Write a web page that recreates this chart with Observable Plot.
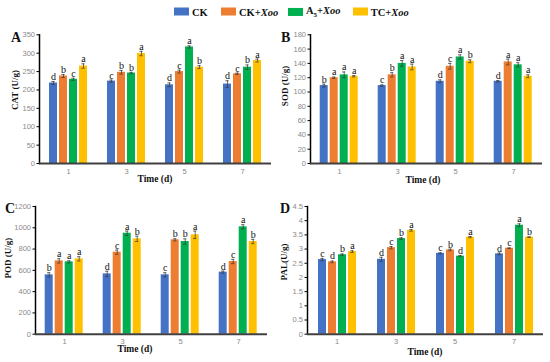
<!DOCTYPE html>
<html><head><meta charset="utf-8">
<script src="https://cdn.jsdelivr.net/npm/d3@7"></script>
<script src="https://cdn.jsdelivr.net/npm/@observablehq/plot@0.6"></script>
<style>
body{margin:0;background:#fff}
#fig{position:relative;width:550px;height:362px;overflow:hidden;background:#fff;font-family:"Liberation Serif","Times New Roman",serif;color:#111}
.panel{position:absolute}
.abs{position:absolute;white-space:nowrap}
.plet{font-weight:bold;font-size:14px;line-height:1}
.ytitle{font-weight:bold;font-size:9px;transform:translate(-50%,-50%) rotate(-90deg)}
.xtitle{font-weight:bold;font-size:9.5px;line-height:1;transform:translate(-50%,-50%)}
.leg{display:flex;align-items:center;font-weight:bold;font-size:10.5px;transform:translateY(-50%)}
.sw{display:inline-block;width:15px;height:8px;margin-right:3px}
g[aria-label^="y-axis"] text, g[aria-label^="fx-axis"] text{fill:#8a8a8a}
g[aria-label^="y-axis"] path.domain, g[aria-label="y-axis line"] line, g[aria-label="frame"] line{stroke-width:1.5}
</style></head>
<body><div id="fig"></div>
<script>
const times = ["1", "3", "5", "7"];
const treatments = ["CK", "CK+Xoo", "A5+Xoo", "TC+Xoo"];
const legendLabels = ["CK", "CK+<i>Xoo</i>", "A<sub style='font-size:7px'>5</sub>+<i>Xoo</i>", "TC+<i>Xoo</i>"];
const colors = ["#4472C4", "#ED7D31", "#00B050", "#FFC000"];

// CAT (U/g): rows = time, columns = treatment
const catMean = [[219, 238, 229, 265], [224, 248, 246, 299], [214, 250, 317, 262], [216, 244, 262, 280]];
const catErr = [[4, 4, 3, 6], [3, 5, 2, 6], [5, 4, 3, 4], [9, 2, 6, 4]];
const catLetters = [["d", "b", "c", "a"], ["c", "b", "b", "a"], ["d", "c", "a", "b"], ["d", "c", "b", "a"]];
const catTicks = [0, 50, 100, 150, 200, 250, 300, 350];
const catTickLabels = ["0", "50", "100", "150", "200", "250", "300", "350"];

// SOD (U/g)
const sodMean = [[109, 120, 124, 122], [109, 124, 140, 135], [115, 136, 149, 143], [115, 142, 138, 122]];
const sodErr = [[2, 1, 4, 1], [1, 3, 4, 4], [2, 4, 3, 2], [1, 4, 3, 2]];
const sodLetters = [["b", "a", "a", "a"], ["c", "b", "a", "a"], ["d", "c", "a", "b"], ["d", "a", "a", "a"]];
const sodTicks = [0, 20, 40, 60, 80, 100, 120, 140, 160, 180];
const sodTickLabels = ["0", "20", "40", "60", "80", "100", "120", "140", "160", "180"];

// POD (U/g)
const podMean = [[558, 689, 680, 708], [567, 771, 949, 896], [558, 887, 871, 934], [583, 683, 1009, 871]];
const podErr = [[20, 20, 10, 20], [25, 20, 20, 25], [20, 10, 25, 35], [10, 20, 20, 20]];
const podLetters = [["b", "a", "a", "a"], ["d", "c", "a", "b"], ["c", "b", "b", "a"], ["d", "c", "a", "b"]];
const podTicks = [0, 200, 400, 600, 800, 1000, 1200];
const podTickLabels = ["0", "200", "400", "600", "800", "1000", "1200"];

// PAL (U/g)
const palMean = [[2.63, 2.55, 2.80, 2.91], [2.64, 3.05, 3.37, 3.66], [2.85, 2.97, 2.75, 3.42], [2.83, 3.03, 3.84, 3.42]];
const palErr = [[0.04, 0.03, 0.03, 0.03], [0.07, 0.04, 0.03, 0.03], [0.02, 0.03, 0.02, 0.02], [0.03, 0.01, 0.05, 0.01]];
const palLetters = [["c", "d", "b", "a"], ["d", "c", "b", "a"], ["c", "b", "d", "a"], ["d", "c", "a", "b"]];
const palTicks = [0, 0.5, 1, 1.5, 2, 2.5, 3, 3.5, 4, 4.5];
const palTickLabels = ["0", "0.5", "1", "1.5", "2", "2.5", "3", "3.5", "4", "4.5"];

const fig = document.getElementById("fig");

function addDiv(cls, html, left, top) {
  const d = document.createElement("div");
  d.className = "abs " + cls;
  d.innerHTML = html;
  d.style.left = left + "px";
  d.style.top = top + "px";
  fig.appendChild(d);
  return d;
}

function panel(p) {
  const rows = [];
  times.forEach((t, i) => treatments.forEach((s, j) =>
    rows.push({time: t, trt: s, v: p.mean[i][j], e: p.err[i][j], L: p.letters[i][j]})));
  const chart = Plot.plot({
    width: p.w, height: p.h,
    marginLeft: p.ml, marginRight: p.mr, marginTop: p.mt, marginBottom: p.mb,
    style: {fontFamily: "'Liberation Sans', Arial, sans-serif", fontSize: "7.5px", color: "#000", background: "transparent", overflow: "visible"},
    fx: {domain: times, padding: 0, tickSize: 0, tickPadding: p.tp, label: null},
    x: {domain: treatments, paddingInner: 0.2, paddingOuter: 0.9, axis: null},
    y: {domain: [0, p.ymax], ticks: p.ticks, tickFormat: d => p.tickLabels[p.ticks.indexOf(d)], tickSize: 2.5, tickPadding: 2, label: null, line: true},
    color: {domain: treatments, range: colors},
    marks: [
      Plot.barY(rows, {fx: "time", x: "trt", y: "v", fill: "trt"}),
      Plot.ruleX(rows, {fx: "time", x: "trt", y1: d => d.v - d.e, y2: d => d.v + d.e, stroke: "#333", strokeWidth: 0.7}),
      Plot.tickY(rows, {fx: "time", x: "trt", y: d => d.v + d.e, stroke: "#333", strokeWidth: 0.7, insetLeft: 2.3, insetRight: 2.3}),
      Plot.tickY(rows, {fx: "time", x: "trt", y: d => d.v - d.e, stroke: "#333", strokeWidth: 0.7, insetLeft: 2.3, insetRight: 2.3}),
      Plot.text(rows, {fx: "time", x: "trt", y: d => d.v + d.e, text: "L", dy: -1.5, lineAnchor: "bottom", fontFamily: "'Liberation Serif', serif", fontSize: 10, fill: "#111"}),
      Plot.ruleY([0], {stroke: "#404040", strokeWidth: 2})
    ]
  });
  chart.style.position = "absolute";
  chart.style.left = p.left + "px";
  chart.style.top = p.top + "px";
  fig.appendChild(chart);
}

panel({mean: catMean, err: catErr, letters: catLetters, ticks: catTicks, tickLabels: catTickLabels, ymax: 350,
  left: 0, top: 20, w: 275, h: 162, ml: 38, mr: 3, mt: 14.3, mb: 19, tp: 5});
panel({mean: sodMean, err: sodErr, letters: sodLetters, ticks: sodTicks, tickLabels: sodTickLabels, ymax: 180,
  left: 275, top: 20, w: 275, h: 162, ml: 33.3, mr: 7, mt: 14.3, mb: 19, tp: 5});
panel({mean: podMean, err: podErr, letters: podLetters, ticks: podTicks, tickLabels: podTickLabels, ymax: 1200,
  left: 0, top: 195, w: 275, h: 155, ml: 34.3, mr: 7, mt: 11, mb: 16.3, tp: 4});
panel({mean: palMean, err: palErr, letters: palLetters, ticks: palTicks, tickLabels: palTickLabels, ymax: 4.5,
  left: 275, top: 195, w: 275, h: 155, ml: 31, mr: 7, mt: 11, mb: 16.3, tp: 4});

// panel letters
addDiv("plet", "A", 11, 31);
addDiv("plet", "B", 281, 31);
addDiv("plet", "C", 5, 202);
addDiv("plet", "D", 280, 202);
// y titles
addDiv("ytitle", "CAT (U/g)", 15, 90);
addDiv("ytitle", "SOD (U/g)", 285, 86);
addDiv("ytitle", "POD (U/g)", 8, 258);
addDiv("ytitle", "PAL(U/g)", 284, 262);
// x titles
addDiv("xtitle", "Time (d)", 155, 180);
addDiv("xtitle", "Time (d)", 423, 181);
addDiv("xtitle", "Time (d)", 135, 350);
addDiv("xtitle", "Time (d)", 425, 352.5);
// legend
const legX = [174, 221, 288, 352.7];
treatments.forEach((t, i) => {
  addDiv("leg", `<span class="sw" style="background:${colors[i]}"></span><span>${legendLabels[i]}</span>`, legX[i], 11.5);
});
</script></body></html>
